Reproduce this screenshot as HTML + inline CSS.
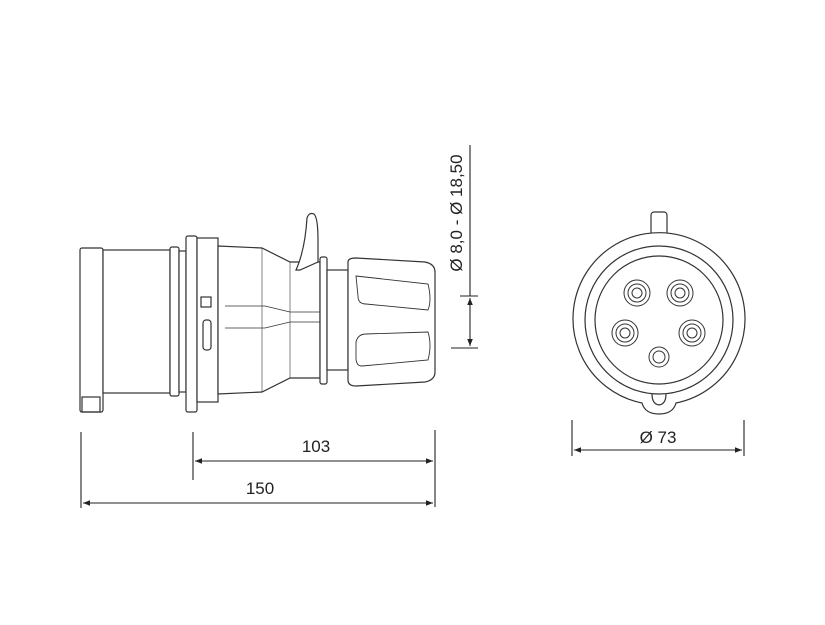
<!DOCTYPE html>
<html><head><meta charset="utf-8"><style>
html,body{margin:0;padding:0;background:#fff;}
svg{display:block;}
text{font-family:"Liberation Sans","DejaVu Sans",sans-serif;fill:#222;}
</style></head><body>
<svg width="825" height="625" viewBox="0 0 825 625" xmlns="http://www.w3.org/2000/svg">
<defs>
<marker id="a" viewBox="0 0 10 10" refX="10" refY="5" markerWidth="9" markerHeight="7" orient="auto-start-reverse" markerUnits="userSpaceOnUse"><path d="M0,1 L10,5 L0,9 z" fill="#222"/></marker>
</defs>
<g fill="#fff" stroke="#333" stroke-width="1.2">
<rect x="80" y="248" width="23" height="164" rx="2"/>
<rect x="82" y="397" width="18" height="15" fill="none"/>
<rect x="103" y="250" width="67" height="143"/>
<rect x="170" y="247" width="9" height="149" rx="2"/>
<rect x="179" y="251" width="7" height="141"/>
<rect x="186" y="236" width="11" height="176" rx="2"/>
<rect x="197" y="238" width="21" height="164"/>
<path d="M218,246 L262,248 L290,262 L320,262 L320,378 L290,378 L262,392 L218,394 Z"/>
<path d="M225,306 L265,306 L290,312 L320,312 M225,328 L265,328 L290,322 L320,322" fill="none" stroke-width="0.8"/>
<line x1="262" y1="248" x2="262" y2="392" stroke-width="0.6"/>
<line x1="290" y1="262" x2="290" y2="378" stroke-width="0.6"/>
<rect x="320" y="257" width="7" height="127" rx="2"/>
<rect x="327" y="270" width="21" height="100"/>
<path d="M348,262 Q348,258 356,258 L425,262 Q435,264 435,272 L435,372 Q435,380 425,382 L356,386 Q348,386 348,380 Z"/>
<path d="M356,276 L428,284 Q432,300 428,310 L366,304 Q358,304 358,296 Z" fill="none" stroke-width="0.9"/>
<path d="M356,342 Q358,334 366,334 L428,332 Q432,345 428,360 L362,366 Q356,366 356,358 Z" fill="none" stroke-width="0.9"/>
<path d="M296,270 Q305,250 307,218 Q309,212 314,214 Q318,218 318,240 L318,262 L300,270 Z"/>
<rect x="201" y="297" width="10" height="10"/>
<rect x="203" y="320" width="8" height="30" rx="3"/>
<!-- front view -->
<rect x="651" y="212" width="16" height="24" rx="3"/>
<path d="M642,403 A86,86 0 1 1 676,403 Q673,414 659,414 Q645,414 642,403 Z"/>
<circle cx="659" cy="320" r="74"/>
<circle cx="659" cy="320" r="64"/>
<path d="M652,394 Q652,404 659,405 Q666,404 666,394" fill="none"/>
</g>
<g fill="#fff" stroke="#333" stroke-width="1">
<circle cx="637" cy="293" r="13"/><circle cx="637" cy="293" r="9"/><circle cx="637" cy="293" r="5"/>
<circle cx="680" cy="293" r="13"/><circle cx="680" cy="293" r="9"/><circle cx="680" cy="293" r="5"/>
<circle cx="625" cy="333" r="13"/><circle cx="625" cy="333" r="9"/><circle cx="625" cy="333" r="5"/>
<circle cx="692" cy="333" r="13"/><circle cx="692" cy="333" r="9"/><circle cx="692" cy="333" r="5"/>
<circle cx="659" cy="357" r="10"/><circle cx="659" cy="357" r="6"/>
</g>
<g stroke="#222" stroke-width="1.1" fill="none">
<line x1="193" y1="432" x2="193" y2="480"/>
<line x1="435" y1="430" x2="435" y2="507"/>
<line x1="81" y1="432" x2="81" y2="508"/>
<line x1="195" y1="461" x2="433" y2="461" marker-start="url(#a)" marker-end="url(#a)"/>
<line x1="83" y1="503" x2="433" y2="503" marker-start="url(#a)" marker-end="url(#a)"/>
<line x1="572" y1="420" x2="572" y2="456"/>
<line x1="744" y1="420" x2="744" y2="456"/>
<line x1="574" y1="450" x2="742" y2="450" marker-start="url(#a)" marker-end="url(#a)"/>
<line x1="470" y1="145" x2="470" y2="296"/>
<line x1="460" y1="296" x2="478" y2="296"/>
<line x1="451" y1="348" x2="478" y2="348"/>
<line x1="470" y1="298" x2="470" y2="346" marker-start="url(#a)" marker-end="url(#a)"/>
</g>
<text x="316" y="452" font-size="17" text-anchor="middle">103</text>
<text x="260" y="494" font-size="17" text-anchor="middle">150</text>
<text x="658" y="443" font-size="17" text-anchor="middle">Ø 73</text>
<text x="0" y="0" font-size="17" text-anchor="middle" transform="translate(462,213) rotate(-90)">Ø 8,0 - Ø 18,50</text>
</svg>
</body></html>
